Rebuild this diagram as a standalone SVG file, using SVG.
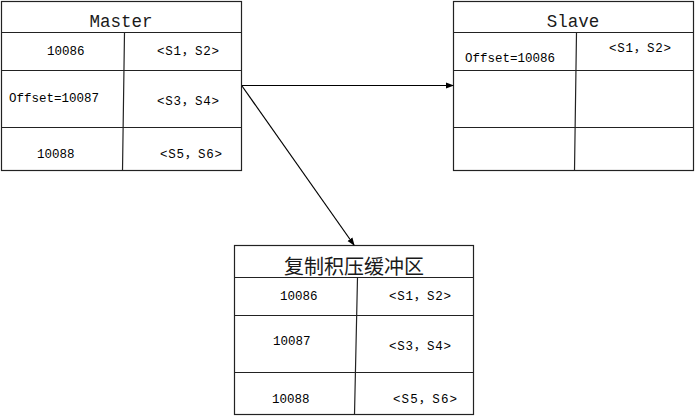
<svg xmlns="http://www.w3.org/2000/svg" width="695" height="416" viewBox="0 0 695 416">
<style>
.box{fill:#fff;stroke:#222;stroke-width:1.2}
.ln{stroke:#222;stroke-width:1.2;fill:none}
.t{font-family:"Liberation Mono","Noto Sans CJK SC",monospace;font-size:12.5px;fill:#000}
.h{font-family:"Liberation Mono","Noto Sans CJK SC",monospace;font-size:17.5px;fill:#1a1a1a;text-anchor:middle}
.c{stroke:#000;stroke-width:1.2;fill:none;marker-end:url(#ah)}
</style>
<defs>
<marker id="ah" markerWidth="8" markerHeight="8" refX="7" refY="4" orient="auto" markerUnits="userSpaceOnUse">
<path d="M0,1 L8,4 L0,7 z" fill="#000"/>
</marker>
</defs>
<g id="master">
<rect class="box" x="1.5" y="1.5" width="240" height="169"/>
<path class="ln" d="M1.5,32.5H241.5M1.5,70.5H241.5M1.5,127.5H241.5M124.5,32.5L122.5,170.5"/>
<text class="h" x="121" y="27">Master</text>
<text class="t" x="47" y="55">10086</text>
<text class="t" x="157" y="55" textLength="62" lengthAdjust="spacing">&lt;S1，S2&gt;</text>
<text class="t" x="9" y="102">Offset=10087</text>
<text class="t" x="157" y="105" textLength="62" lengthAdjust="spacing">&lt;S3，S4&gt;</text>
<text class="t" x="37" y="158">10088</text>
<text class="t" x="160" y="158" textLength="62" lengthAdjust="spacing">&lt;S5，S6&gt;</text>
</g>
<g id="slave">
<rect class="box" x="453.5" y="1.5" width="240" height="169"/>
<path class="ln" d="M453.5,32.5H693.5M453.5,70.5H693.5M453.5,127.5H693.5M576.5,32.5L574.5,170.5"/>
<text class="h" x="573" y="27">Slave</text>
<text class="t" x="465" y="62">Offset=10086</text>
<text class="t" x="609" y="52" textLength="62" lengthAdjust="spacing">&lt;S1，S2&gt;</text>
</g>
<g id="buffer">
<rect class="box" x="234.5" y="245.5" width="239" height="169"/>
<path class="ln" d="M234.5,277.5H473.5M234.5,315.5H473.5M234.5,372.5H473.5M357.5,277.5L354.5,414.5"/>
<text x="354" y="274" style="font-family:'Noto Sans CJK SC',sans-serif;font-size:20px;fill:#1a1a1a;text-anchor:middle">复制积压缓冲区</text>
<text class="t" x="280" y="300">10086</text>
<text class="t" x="389" y="300" textLength="62" lengthAdjust="spacing">&lt;S1，S2&gt;</text>
<text class="t" x="273" y="345">10087</text>
<text class="t" x="389" y="350" textLength="62" lengthAdjust="spacing">&lt;S3，S4&gt;</text>
<text class="t" x="272" y="403">10088</text>
<text class="t" x="393" y="403" textLength="64" lengthAdjust="spacing">&lt;S5，S6&gt;</text>
</g>
<g id="connectors">
<path class="c" d="M242,85.5H453"/>
<path class="c" d="M242,86L354,245"/>
</g>
</svg>
